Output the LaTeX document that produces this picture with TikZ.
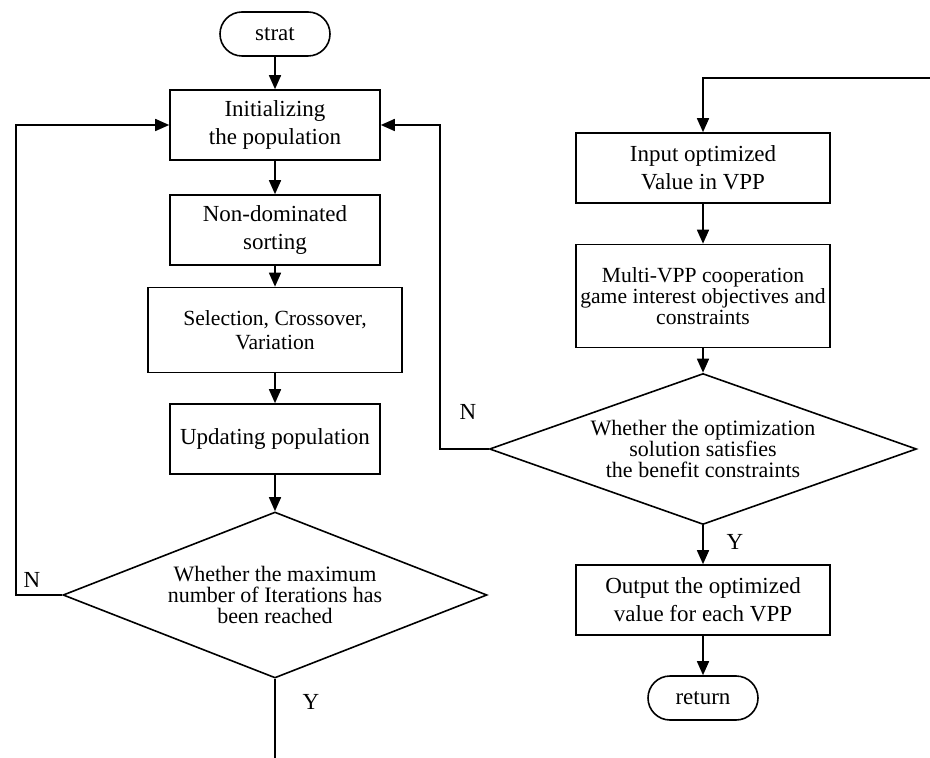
\documentclass[tikz,border=0pt]{standalone}
\usepackage{fontspec}
\setmainfont{Liberation Serif}
\usetikzlibrary{shapes.geometric,arrows.meta}
\begin{document}
\begin{tikzpicture}[x=0.5pt,y=-0.5pt,
    line width=0.8pt,
    arr/.style={-{Triangle[width=6pt,length=7pt]}},
    term/.style={draw,rounded corners=11pt,minimum width=55pt,minimum height=22pt,font=\fontsize{11.5}{14}\selectfont},
    proc/.style={draw,align=center,minimum width=105pt,minimum height=35pt,inner sep=1pt,font=\fontsize{11.5}{14}\selectfont},
    wproc/.style={proc,minimum width=127pt},
    tight/.style={font=\fontsize{10.8}{10.6}\selectfont},
    decision/.style={draw,diamond,inner sep=0pt,minimum width=424*0.5pt,minimum height=166*0.5pt},
    dtext/.style={align=center,inner sep=0pt,font=\fontsize{11}{10.6}\selectfont},
    yn/.style={font=\fontsize{11.5}{14}\selectfont}]
  \useasboundingbox (0,0) rectangle (930,758);

  \node[term] (strat) at (275,34) {strat};
  \node[proc] (init) at (275,125) {Initializing\\the population};
  \node[proc] (nondom) at (275,230) {Non-dominated\\sorting};
  \node[proc,minimum width=127pt,minimum height=42.5pt,font=\fontsize{10.8}{11.7}\selectfont] (sel) at (275,330) {Selection, Crossover,\\Variation};
  \node[proc] (upd) at (275,439) {Updating population};
  \node[decision] (dec1) at (275,595) {};
  \node[dtext] (dec1t) at (dec1) {Whether the maximum\\number of Iterations has\\been reached};

  \node[wproc] (input) at (703,168) {Input optimized\\Value in VPP};
  \node[wproc,minimum height=51.5pt,tight] (multi) at (703,296) {Multi-VPP cooperation\\game interest objectives and\\constraints};
  \node[decision,minimum width=427*0.5pt,minimum height=151*0.5pt] (dec2) at (703,449) {};
  \node[dtext] (dec2t) at (dec2) {Whether the optimization\\solution satisfies\\the benefit constraints};
  \node[wproc] (output) at (703,600) {Output the optimized\\value for each VPP};
  \node[term] (ret) at (703,698) {return};

  \coordinate (lloop) at (16,595);
  \coordinate (rloop) at (440,449);
  \coordinate (yend) at (275,758);
  \coordinate (topin) at (930,78);

  \draw[arr] (strat) -- (init);
  \draw[arr] (init) -- (nondom);
  \draw[arr] (nondom) -- (sel);
  \draw[arr] (sel) -- (upd);
  \draw[arr] (upd) -- (dec1);
  \draw[arr] (dec1.west) -- (lloop) |- (init.west);
  \draw (dec1.south) -- (yend);
  \draw[arr] (dec2.west) -- (rloop) |- (init.east);
  \draw[arr] (topin) -| (input.north);
  \draw[arr] (input) -- (multi);
  \draw[arr] (multi) -- (dec2);
  \draw[arr] (dec2) -- (output);
  \draw[arr] (output) -- (ret);

  \node[yn] (n1) at (32,580) {N};
  \node[yn] (y1) at (311,702) {Y};
  \node[yn] (n2) at (468,412) {N};
  \node[yn] (y2) at (735,542) {Y};
\end{tikzpicture}
\end{document}
